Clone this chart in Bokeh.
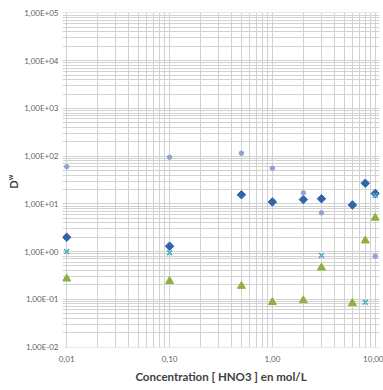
import math
from bokeh.plotting import figure
from bokeh.models import Range1d, FixedTicker, Label
from bokeh.embed import file_html
from bokeh.resources import INLINE

# Data
conc_diamond = [0.01, 0.1, 0.5, 1.0, 2.0, 3.0, 6.0, 8.0, 10.0]
dw_diamond = [2.0, 1.3, 15.5, 11.0, 12.3, 12.8, 9.5, 27.0, 16.5]

conc_circle = [0.01, 0.1, 0.5, 1.0, 2.0, 3.0, 10.0]
dw_circle = [60.0, 95.0, 115.0, 56.0, 17.0, 6.5, 0.8]

conc_cross = [0.01, 0.1, 3.0, 8.0, 10.0]
dw_cross = [1.0, 0.95, 0.83, 0.087, 15.0]

conc_tri = [0.01, 0.1, 0.5, 1.0, 2.0, 3.0, 6.0, 8.0, 10.0]
dw_tri = [0.27, 0.24, 0.19, 0.087, 0.095, 0.46, 0.083, 1.7, 5.1]

x_ticks = [0.01, 0.1, 1.0, 10.0]
x_tick_labels = ["0,01", "0,10", "1,00", "10,00"]
y_ticks = [1e-2, 1e-1, 1e0, 1e1, 1e2, 1e3, 1e4, 1e5]
y_tick_labels = ["1,00E-02", "1,00E-01", "1,00E+00", "1,00E+01",
                 "1,00E+02", "1,00E+03", "1,00E+04", "1,00E+05"]

x_minor = [k * 10.0 ** e for e in range(-2, 1) for k in range(2, 10)]
y_minor = [k * 10.0 ** e for e in range(-2, 5) for k in range(2, 10)]

FONT = "Lato"
GRID = "#d2d2d2"
LABEL = "#5f5f5f"

p = figure(width=383, height=390, x_axis_type="log", y_axis_type="log",
           x_range=Range1d(0.0091, 11.0), y_range=Range1d(0.0098, 1.02e5),
           output_backend="svg", toolbar_location=None,
           min_border_left=61, min_border_right=4,
           min_border_top=12, min_border_bottom=43)
p.outline_line_color = None
p.background_fill_color = "white"

p.xaxis.ticker = FixedTicker(ticks=x_ticks, minor_ticks=x_minor)
p.yaxis.ticker = FixedTicker(ticks=y_ticks, minor_ticks=y_minor)
p.xaxis.major_label_overrides = {v: s for v, s in zip(x_ticks, x_tick_labels)}
p.yaxis.major_label_overrides = {v: s for v, s in zip(y_ticks, y_tick_labels)}
p.xaxis.bounds = (0.01, 10.0)

for ax in (p.xaxis, p.yaxis):
    ax.axis_line_color = None
    ax.major_tick_line_color = None
    ax.minor_tick_line_color = None
    ax.major_tick_out = 0
    ax.minor_tick_out = 0
    ax.major_label_text_font = FONT
    ax.major_label_text_font_size = "8px"
    ax.major_label_text_color = LABEL

p.xaxis.major_label_standoff = 8
p.yaxis.major_label_standoff = 4

p.xaxis.axis_label = "Concentration [ HNO3 ] en mol/L"
p.xaxis.axis_label_text_font = FONT
p.xaxis.axis_label_text_font_style = "bold"
p.xaxis.axis_label_text_font_size = "11.5px"
p.xaxis.axis_label_text_color = "#404040"
p.xaxis.axis_label_standoff = 5

for g in (p.xgrid, p.ygrid):
    g.grid_line_color = GRID
    g.minor_grid_line_color = GRID
    g.grid_line_width = 1
    g.minor_grid_line_width = 1

p.scatter(conc_diamond, dw_diamond, marker="square", angle=math.pi / 4,
          size=6, fill_color="#3065AA", line_color="#3065AA")
p.scatter(conc_circle, dw_circle, marker="circle", size=4.5,
          fill_color="#8FA3D4", line_color="#8FA3D4")
p.scatter(conc_cross, dw_cross, marker="x", size=7,
          line_color="#4BACC6", line_width=1.5)
p.scatter(conc_tri, dw_tri, marker="triangle", size=8,
          fill_color="#8DB03F", line_color="#8DB03F")

lab_d = Label(x=5, y=163, x_units="screen", y_units="screen", text="D",
              angle=math.pi / 2, text_font=FONT, text_font_style="bold",
              text_font_size="11px", text_color="#404040",
              text_align="center", text_baseline="middle")
lab_w = Label(x=9, y=170, x_units="screen", y_units="screen", text="w",
              angle=math.pi / 2, text_font=FONT, text_font_style="bold",
              text_font_size="7px", text_color="#404040",
              text_align="center", text_baseline="middle")
p.add_layout(lab_d, "left")
p.add_layout(lab_w, "left")

open("out.html", "w").write(file_html(p, INLINE))
